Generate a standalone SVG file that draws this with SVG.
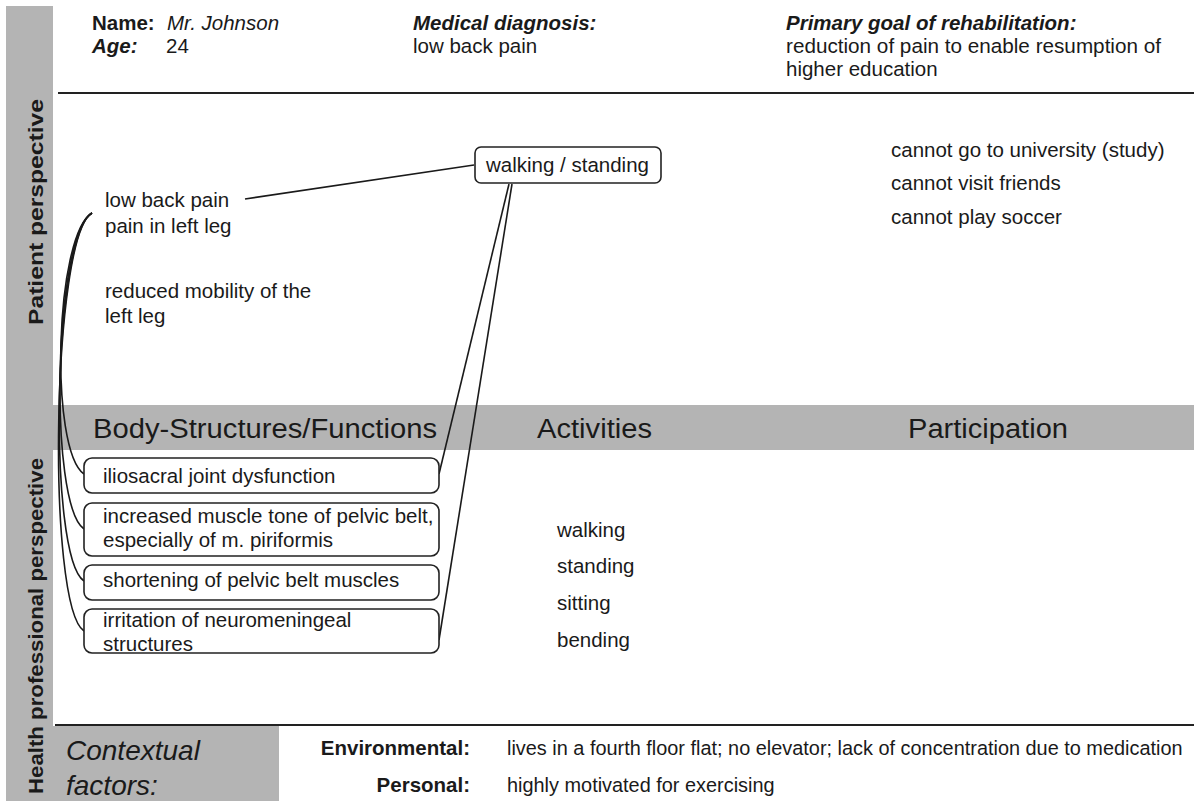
<svg xmlns="http://www.w3.org/2000/svg" width="1194" height="801" viewBox="0 0 1194 801">
<style>
text{font-family:'Liberation Sans',Arial,Helvetica,sans-serif;fill:#1a1a1a}
.nw{font-family:'Liberation Sans Narrow','Arial Narrow','Liberation Sans',Arial,sans-serif}
.hd{font-size:20.5px}
.bd{font-size:20.5px}
.bt{font-size:19.9px}
.bb{font-weight:bold}
.it{font-style:italic}
.band{font-size:27px}
.side{font-size:21px;font-weight:bold}
.gray{fill:#b4b4b4}
.box{fill:#fff;stroke:#222;stroke-width:1.6}
.rule{stroke:#222;stroke-width:2}
.con{fill:none;stroke:#1a1a1a;stroke-width:1.6}
</style>
<rect width="1194" height="801" fill="#fff"/>
<g id="background">
<rect class="gray" x="6" y="6" width="47" height="795"/>
<rect class="gray" x="53" y="405" width="1141" height="45"/>
<rect class="gray" x="53" y="726" width="226" height="75"/>
<line class="rule" x1="58" y1="93" x2="1194" y2="93"/>
<line class="rule" x1="55" y1="725" x2="1194" y2="725"/>
</g>
<g id="sidebar-labels">
<text class="side" transform="translate(43,325) rotate(-90)" textLength="226" lengthAdjust="spacingAndGlyphs">Patient perspective</text>
<text class="side" transform="translate(43,794) rotate(-90)" textLength="336" lengthAdjust="spacingAndGlyphs">Health professional perspective</text>
</g>
<g id="header">
<text class="hd bb" x="92" y="30">Name:</text>
<text class="hd it" x="167" y="30">Mr. Johnson</text>
<text class="hd bb it" x="92" y="53">Age:</text>
<text class="hd" x="166" y="53">24</text>
<text class="hd bb it" x="413" y="30">Medical diagnosis:</text>
<text class="hd" x="413" y="53">low back pain</text>
<text class="hd bb it" x="786" y="30">Primary goal of rehabilitation:</text>
<text class="hd" x="786" y="53" textLength="375" lengthAdjust="spacingAndGlyphs">reduction of pain to enable resumption of</text>
<text class="hd" x="786" y="76">higher education</text>
</g>
<g id="band-labels">
<text class="band nw" x="93" y="438" textLength="344" lengthAdjust="spacingAndGlyphs">Body-Structures/Functions</text>
<text class="band nw" x="537" y="438" textLength="115" lengthAdjust="spacingAndGlyphs">Activities</text>
<text class="band nw" x="908" y="438" textLength="160" lengthAdjust="spacingAndGlyphs">Participation</text>
</g>
<g id="patient-body">
<text class="bd" x="105" y="207">low back pain</text>
<text class="bd" x="105" y="233">pain in left leg</text>
<text class="bd" x="105" y="298">reduced mobility of the</text>
<text class="bd" x="105" y="323">left leg</text>
</g>
<g id="patient-activity">
<rect class="box" x="475" y="147" width="186" height="36" rx="6"/>
<text class="bd" x="486" y="172">walking / standing</text>
</g>
<g id="patient-participation">
<text class="bd" x="891" y="157">cannot go to university (study)</text>
<text class="bd" x="891" y="190">cannot visit friends</text>
<text class="bd" x="891" y="224">cannot play soccer</text>
</g>
<g id="connectors">
<line class="con" x1="245" y1="199" x2="474" y2="165"/>
<line class="con" x1="509" y1="184" x2="439" y2="474"/>
<line class="con" x1="512" y1="184" x2="439" y2="640"/>
<path class="con" d="M92,213 C55,235 49,449 84,474"/>
<path class="con" d="M92,213 C54,235 48,504 84,529"/>
<path class="con" d="M92,213 C53,235 47,556 84,581"/>
<path class="con" d="M92,213 C52,235 46,606 84,631"/>
</g>
<g id="body-box-1">
<rect class="box" x="84" y="458" width="355" height="35" rx="8"/>
<text class="bd" x="103" y="483">iliosacral joint dysfunction</text>
</g>
<g id="body-box-2">
<rect class="box" x="84" y="503" width="355" height="53" rx="8"/>
<text class="bd" x="103" y="523">increased muscle tone of pelvic belt,</text>
<text class="bd" x="103" y="547">especially of m. piriformis</text>
</g>
<g id="body-box-3">
<rect class="box" x="84" y="565" width="355" height="35" rx="8"/>
<text class="bd" x="103" y="587">shortening of pelvic belt muscles</text>
</g>
<g id="body-box-4">
<rect class="box" x="84" y="609" width="355" height="44" rx="8"/>
<text class="bd" x="103" y="627">irritation of neuromeningeal</text>
<text class="bd" x="103" y="651">structures</text>
</g>
<g id="activities">
<text class="bd" x="557" y="537">walking</text>
<text class="bd" x="557" y="573">standing</text>
<text class="bd" x="557" y="610">sitting</text>
<text class="bd" x="557" y="647">bending</text>
</g>
<g id="contextual">
<text class="it" style="font-size:28px" x="66" y="760">Contextual</text>
<text class="it" style="font-size:28px" x="66" y="795">factors:</text>
<text class="bd bb" x="470" y="755" text-anchor="end">Environmental:</text>
<text class="bt" x="507" y="755">lives in a fourth floor flat; no elevator; lack of concentration due to medication</text>
<text class="bd bb" x="470" y="792" text-anchor="end">Personal:</text>
<text class="bt" x="507" y="792">highly motivated for exercising</text>
</g>
</svg>
